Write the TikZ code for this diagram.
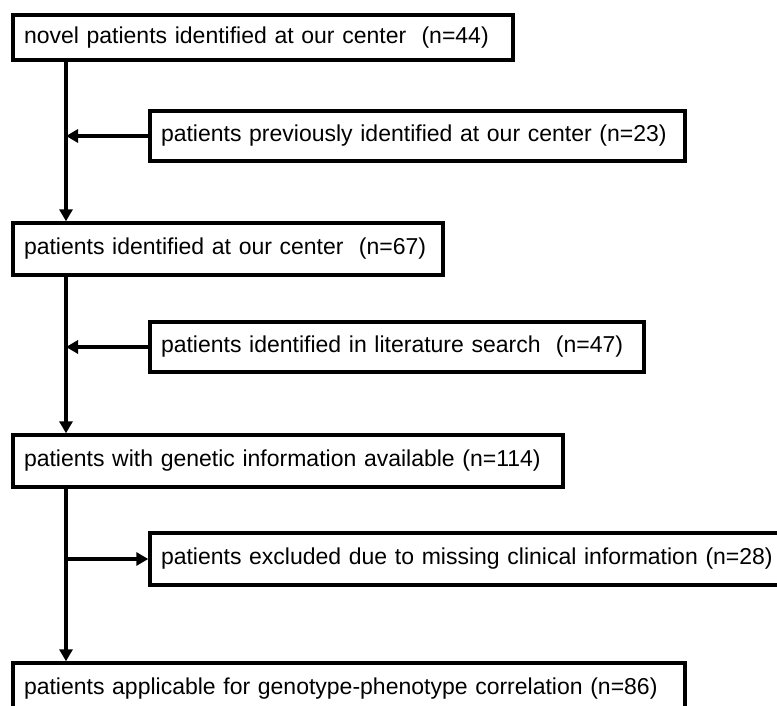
\documentclass[tikz,border=0pt]{standalone}
\usepackage{fontspec}
\setmainfont{Liberation Sans}
\usetikzlibrary{arrows.meta}
\begin{document}
\begin{tikzpicture}[x=1pt,y=1pt,
  box/.style={draw, line width=3.4pt, anchor=center, inner xsep=11pt, inner ysep=0pt,
    font=\fontsize{23}{28}\selectfont, align=left},
  arr/.style={line width=3.4pt, -{Triangle[length=12pt,width=13pt]}}]
\useasboundingbox (0,0) rectangle (777,705);
\fill[white] (0,0) rectangle (777,705);
\node[box, minimum width=500pt, minimum height=45pt, text width=478pt] (b1) at (263,667.5) {\mbox{novel patients identified at our center\ \ (n=44)}};
\node[box, minimum width=535pt, minimum height=50pt, text width=513pt] (b2) at (417.5,569) {\mbox{patients previously identified at our center (n=23)}};
\node[box, minimum width=430pt, minimum height=52pt, text width=408pt] (b3) at (228,456) {\mbox{patients identified at our center\ \ (n=67)}};
\node[box, minimum width=494pt, minimum height=50pt, text width=472pt] (b4) at (397,358) {\mbox{patients identified in literature search\ \ (n=47)}};
\node[box, minimum width=550pt, minimum height=52pt, text width=528pt] (b5) at (288,244) {\mbox{patients with genetic information available (n=114)}};
\node[box, minimum width=670pt, minimum height=52pt, text width=648pt] (b6) at (485,146) {\mbox{patients excluded due to missing clinical information (n=28)}};
\node[box, minimum width=672pt, minimum height=52pt, text width=650pt] (b7) at (349,16) {\mbox{patients applicable for genotype-phenotype correlation (n=86)}};
\coordinate (sp) at (66,0);
\draw[arr] (b1.south -| sp) -- (b3.north -| sp);
\draw[arr] (b2.west) -- (b2.west -| sp);
\draw[arr] (b3.south -| sp) -- (b5.north -| sp);
\draw[arr] (b4.west) -- (b4.west -| sp);
\draw[arr] (b5.south -| sp) -- (b7.north -| sp);
\draw[arr] (b6.west -| sp) -- (b6.west);
\end{tikzpicture}
\end{document}
